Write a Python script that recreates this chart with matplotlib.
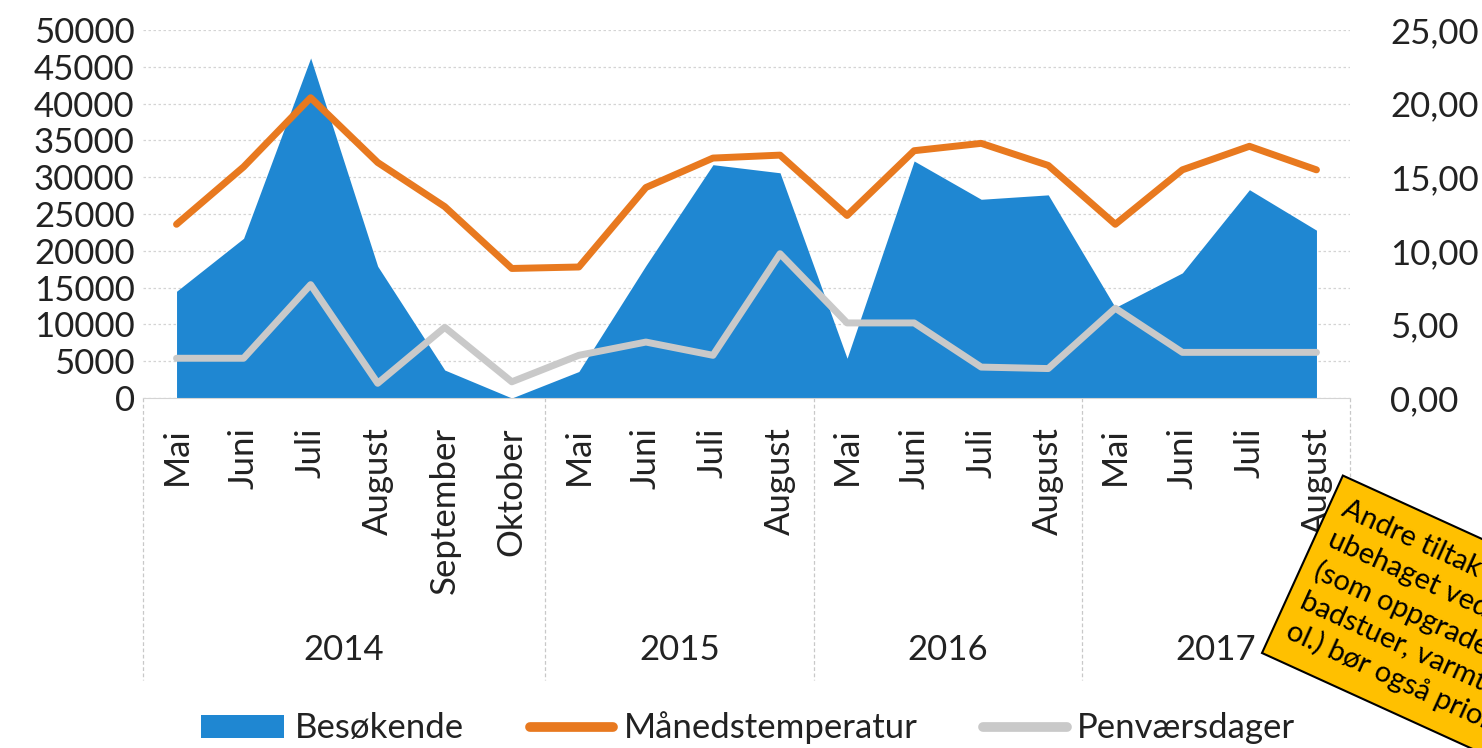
import numpy as np
import matplotlib
matplotlib.use("Agg")
import matplotlib.pyplot as plt
from matplotlib.patches import Rectangle, Patch
from matplotlib.lines import Line2D
from matplotlib.transforms import Affine2D, blended_transform_factory

# ---- data ----
months = ['Mai', 'Juni', 'Juli', 'August', 'September', 'Oktober',
          'Mai', 'Juni', 'Juli', 'August',
          'Mai', 'Juni', 'Juli', 'August',
          'Mai', 'Juni', 'Juli', 'August']
years = ['2014', '2015', '2016', '2017']
year_sizes = [6, 4, 4, 4]
besokende = [14500, 21700, 46200, 17900, 3800, 0,
             3600, 18000, 31700, 30600,
             5400, 32200, 27000, 27600,
             12300, 17000, 28300, 22800]
temperatur = [11.8, 15.7, 20.4, 16.0, 13.0, 8.8,
              8.9, 14.3, 16.3, 16.5,
              12.4, 16.8, 17.3, 15.8,
              11.8, 15.5, 17.1, 15.5]
penvaer = [2.7, 2.7, 7.7, 1.0, 4.8, 1.1,
           2.9, 3.8, 2.9, 9.8,
           5.1, 5.1, 2.1, 2.0,
           6.1, 3.1, 3.1, 3.1]
left_ticks = [0, 5000, 10000, 15000, 20000, 25000, 30000, 35000, 40000, 45000, 50000]
right_ticks = [0, 5, 10, 15, 20, 25]
series_names = ['Besøkende', 'Månedstemperatur', 'Penværsdager']
note_text = ("Andre tiltak som\n"
             "ubehaget ved dårlig\n"
             "(som oppgradering\n"
             "badstuer, varmtvann\n"
             "ol.) bør også prioriteres")

# ---- style ----
plt.rcParams['font.family'] = ['Lato', 'DejaVu Sans']
TXT = '#222222'
BLUE = '#1f87d2'
ORANGE = '#e8791f'
GREY = '#c9c9c9'
FS = 25

W, H = 1482, 748
fig = plt.figure(figsize=(W / 100, H / 100), dpi=100)
L, R, T, B = 143, 1350, 30, 398
ax = fig.add_axes([L / W, 1 - B / H, (R - L) / W, (B - T) / H])

x = np.arange(len(months))
ax.fill_between(x, besokende, 0, color=BLUE, lw=0, zorder=2)
ax.set_xlim(-0.5, len(months) - 0.5)
ax.set_ylim(0, 50000)
ax.set_yticks(left_ticks)
ax.set_yticklabels([str(v) for v in left_ticks])
ax.yaxis.grid(True, color='#d4d4d4', lw=0.9, linestyle=(0, (2, 2)))
ax.set_axisbelow(True)
ax.set_xticks(x)
ax.set_xticklabels(months, rotation=90, va='top', ha='center')
ax.tick_params(axis='x', length=0, pad=21, labelsize=FS, labelcolor=TXT)
ax.tick_params(axis='y', length=0, pad=6, labelsize=FS, labelcolor=TXT)
for s in ['top', 'right', 'left']:
    ax.spines[s].set_visible(False)
ax.spines['bottom'].set_color('#d4d4d4')

ax2 = ax.twinx()
ax2.plot(x, temperatur, color=ORANGE, lw=5, solid_capstyle='round',
         solid_joinstyle='round', zorder=3)
ax2.plot(x, penvaer, color=GREY, lw=5, solid_capstyle='round',
         solid_joinstyle='round', zorder=4)
ax2.set_ylim(0, 25)
ax2.set_yticks(right_ticks)
ax2.set_yticklabels([f"{v:.2f}".replace('.', ',') for v in right_ticks])
ax2.tick_params(axis='y', length=0, pad=29, labelsize=FS, labelcolor=TXT)
for s in ['top', 'right', 'left', 'bottom']:
    ax2.spines[s].set_visible(False)

# year group labels and dividers
trans = blended_transform_factory(ax.transData, ax.transAxes)
y_div_bottom = (B - 680) / (B - T)
y_year = (B - 650) / (B - T)
edges = np.concatenate([[0], np.cumsum(year_sizes)]) - 0.5
for e in edges:
    ax.add_line(Line2D([e, e], [0, y_div_bottom], transform=trans, color='#c8c8c8',
                       lw=0.9, linestyle=(0, (3, 2)), clip_on=False))
for i, yr in enumerate(years):
    cx = (edges[i] + edges[i + 1]) / 2
    ax.text(cx, y_year, yr, transform=trans, ha='center', va='center',
            fontsize=FS, color=TXT, clip_on=False)

# legend
handles = [Patch(facecolor=BLUE, edgecolor='none'),
           Line2D([0], [0], color=ORANGE, lw=7, solid_capstyle='round'),
           Line2D([0], [0], color=GREY, lw=7, solid_capstyle='round')]
fig.legend(handles, series_names, loc='center', bbox_to_anchor=(748 / W, 1 - 728 / H),
           ncol=3, frameon=False, fontsize=FS, handlelength=2.4, handleheight=0.65,
           handletextpad=0.3, columnspacing=1.9, labelcolor=TXT)

# rotated yellow note (partly outside the figure, as in the reference)
ang = -24.5
rect = Rectangle((0, 0), 4.4, 1.95, facecolor='#ffc000', edgecolor='black', lw=1.5,
                 transform=Affine2D().rotate_deg(ang).translate(12.62, 0.95) + fig.dpi_scale_trans,
                 zorder=10)
fig.add_artist(rect)
c, s_ = np.cos(np.radians(ang)), np.sin(np.radians(ang))
tlx, tly = 13.43, 2.73
ri, di = 0.14, 0.17
px = tlx + ri * c - di * (-s_)
py = tly + ri * s_ - di * c
fig.text(px, py, note_text, transform=fig.dpi_scale_trans, rotation=ang,
         rotation_mode='anchor', ha='left', va='top', fontsize=21, linespacing=1.3,
         color='black', zorder=11)

fig.savefig('out.png', dpi=100)
